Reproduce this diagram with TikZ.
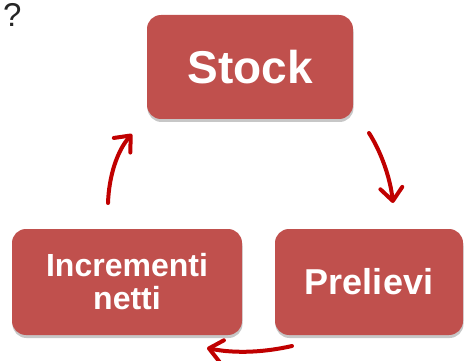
\documentclass[tikz,border=0pt]{standalone}
\usepackage{fontspec}
\setmainfont{Liberation Sans}
\usetikzlibrary{arrows.meta,shadows}
\definecolor{boxred}{HTML}{C0504D}
\definecolor{arrowred}{HTML}{C00000}
\tikzset{
  box/.style={draw=none, fill=boxred, rounded corners=14pt, text=white,
    font=\bfseries, align=center, inner sep=0pt,
    drop shadow={shadow xshift=0.5pt, shadow yshift=-3pt, opacity=0.22, fill=black}},
  flow/.style={draw=arrowred, line width=4pt, line cap=round,
    -{Straight Barb[length=13pt,width=22pt,line cap=round,round]}},
}
\begin{document}
\begin{tikzpicture}[x=1pt,y=-1pt]
\path[use as bounding box] (0,0) rectangle (464,361);
\node[anchor=base west, font=\fontsize{33}{35}\selectfont, text=black!85, inner sep=0pt] (q) at (3,27) {?};
\node[box, minimum width=206pt, minimum height=104pt, font=\bfseries\fontsize{46}{48}\selectfont] (stock) at (250,67) {Stock};
\node[box, minimum width=230pt, minimum height=106pt, font=\bfseries\fontsize{32}{33}\selectfont] (incr) at (127,282) {Incrementi\\netti};
\node[box, minimum width=188pt, minimum height=106pt, font=\bfseries\fontsize{36}{38}\selectfont] (prel) at (369,282) {Prelievi};
\coordinate (a1s) at (108,203);
\coordinate (a1e) at (132,134);
\coordinate (a2s) at (369,133);
\coordinate (a2e) at (393,203);
\coordinate (a3s) at (292,346);
\coordinate (a3e) at (207,348);
\draw[flow] (a1s) .. controls (109,176) and (117,151) .. (a1e);
\draw[flow] (a2s) .. controls (380,150) and (390,176) .. (a2e);
\draw[flow] (a3s) .. controls (266,352) and (236,354) .. (a3e);
\end{tikzpicture}
\end{document}
